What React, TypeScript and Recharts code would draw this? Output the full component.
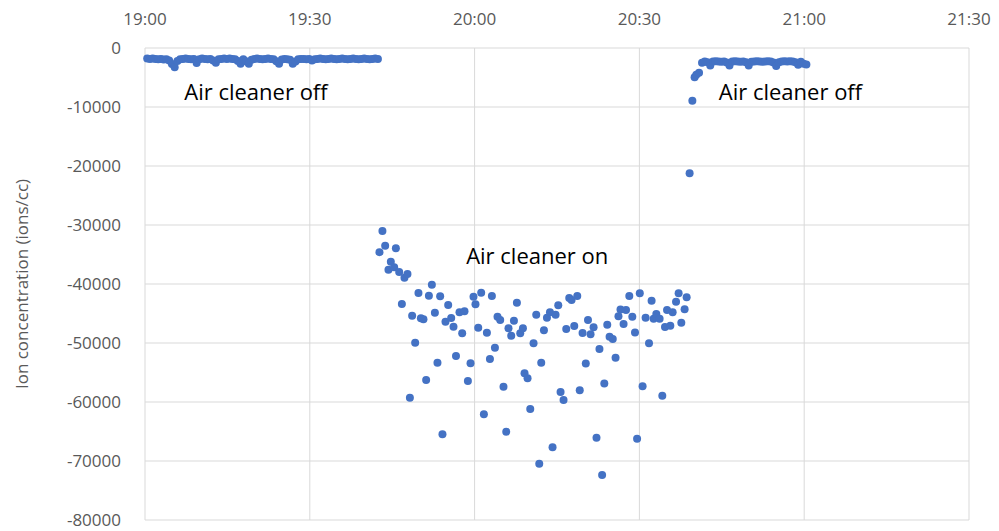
import React from "react";
import { ScatterChart, Scatter, XAxis, YAxis, CartesianGrid, ReferenceDot } from "recharts";

// [minutes after 19:00, ion concentration (ions/cc)]
const offBefore: [number, number][] = [
  [0.4, -1800], [0.9, -1850], [1.4, -1800], [1.9, -1850], [2.4, -1900], [2.9, -1850], [3.4, -1950],
  [3.9, -1900], [4.4, -2100], [4.9, -2700], [5.4, -3250], [5.9, -2200], [6.4, -1900], [6.9, -1850],
  [7.4, -1800], [7.9, -1850], [8.4, -1900], [8.9, -1850], [9.4, -2550], [9.9, -1900], [10.4, -1800],
  [10.9, -1850], [11.4, -1900], [11.9, -1850], [12.4, -2100], [12.9, -2500], [13.4, -1900], [13.9, -1850],
  [14.4, -1800], [14.9, -1850], [15.4, -1800], [15.9, -1850], [16.4, -1900], [16.9, -2200], [17.4, -2650],
  [17.9, -1900], [18.4, -2250], [18.9, -2650], [19.4, -2000], [19.9, -1850], [20.4, -1800], [20.9, -1850],
  [21.4, -1900], [21.9, -1850], [22.4, -1800], [22.9, -1850], [23.4, -1900], [23.9, -2250], [24.4, -2650],
  [24.9, -1950], [25.4, -1850], [25.9, -1900], [26.4, -2000], [26.9, -2650], [27.4, -2300], [27.9, -1900],
  [28.4, -1850], [28.9, -1850], [29.4, -1900], [29.9, -1850], [30.4, -2100], [30.9, -1900], [31.4, -1850],
  [31.9, -1800], [32.4, -1850], [32.9, -1900], [33.4, -1850], [33.9, -1800], [34.4, -1850], [34.9, -1900],
  [35.4, -1850], [35.9, -1800], [36.4, -1850], [36.9, -1900], [37.4, -1850], [37.9, -1800], [38.4, -1850],
  [38.9, -1900], [39.4, -1850], [39.9, -1800], [40.4, -1850], [40.9, -1900], [41.4, -1850], [41.9, -1800],
  [42.4, -1850],
];

const onPeriod: [number, number][] = [
  [42.68, -34600], [43.22, -31000], [43.72, -33500], [44.32, -37580], [44.75, -36220], [45.36, -37170],
  [45.67, -33950], [46.27, -37970], [46.76, -43390], [47.23, -38930], [47.78, -38310], [48.22, -59270],
  [48.63, -45380], [49.18, -49950], [49.78, -41530], [50.22, -45820], [50.69, -45990], [51.18, -56270],
  [51.68, -41990], [52.22, -40120], [52.77, -44870], [53.24, -53340], [53.73, -42090], [54.15, -65480],
  [54.7, -46390], [55.19, -43560], [55.74, -45770], [56.16, -47240], [56.61, -52210], [57.25, -44800],
  [57.74, -48360], [58.16, -44630], [58.78, -56440], [59.26, -53440], [59.8, -42150], [60.16, -43440],
  [60.66, -47410], [61.2, -41480], [61.69, -62090], [62.24, -48260], [62.79, -52710], [63.15, -42040],
  [63.7, -50800], [64.17, -45550], [64.66, -46110], [65.26, -57410], [65.76, -65040], [66.17, -47510],
  [66.67, -48770], [67.16, -46220], [67.7, -43170], [68.31, -48360], [68.8, -47510], [69.09, -55140],
  [69.64, -55990], [70.13, -61190], [70.73, -50050], [71.22, -45210], [71.77, -70460], [72.13, -53340],
  [72.62, -47850], [73.17, -45710], [73.72, -44800], [74.19, -67680], [74.74, -45210], [75.23, -43610],
  [75.65, -58310], [76.19, -59660], [76.68, -47630], [77.23, -42380], [77.65, -42710], [78.14, -47120],
  [78.69, -42040], [79.14, -58020], [79.65, -48310], [80.24, -53480], [80.64, -46100], [81.11, -48530],
  [81.66, -47340], [82.19, -66050], [82.73, -51020], [83.21, -72380], [83.61, -56870], [84.15, -46900],
  [84.57, -48940], [85.15, -49320], [85.66, -52490], [86.19, -45460], [86.56, -44320], [87.12, -46780],
  [87.56, -44410], [88.16, -42040], [88.71, -45540], [89.2, -48220], [89.58, -66220], [90.07, -41560],
  [90.58, -57340], [91.13, -45710], [91.75, -50050], [92.22, -42830], [92.59, -45880], [93.08, -45090],
  [93.68, -45880], [94.17, -58940], [94.66, -47290], [95.03, -44410], [95.63, -47070], [96.05, -44800],
  [96.67, -43000], [97.14, -41580], [97.63, -46560], [98.23, -44290], [98.6, -42260],
  [99.14, -21240], [99.64, -8930], [100.05, -4970], [100.36, -4530], [100.86, -4190],
];

const offAfter: [number, number][] = [
  [101.4, -2500], [101.9, -2300], [102.4, -2400], [102.9, -2950], [103.4, -2300], [103.9, -2250],
  [104.4, -2300], [104.9, -2350], [105.4, -2300], [105.9, -2450], [106.4, -2950], [106.9, -2300],
  [107.4, -2250], [107.9, -2300], [108.4, -2350], [108.9, -2300], [109.4, -2400], [109.9, -2950],
  [110.4, -2350], [110.9, -2300], [111.4, -2250], [111.9, -2300], [112.4, -2350], [112.9, -2300],
  [113.4, -2250], [113.9, -2300], [114.4, -2450], [114.9, -3050], [115.4, -2400], [115.9, -2300],
  [116.4, -2250], [116.9, -2300], [117.4, -2250], [117.9, -2300], [118.4, -2400], [118.9, -2850],
  [119.4, -2350], [119.9, -2650], [120.4, -2800],
];

const timeTicks = [0, 30, 60, 90, 120, 150];
const timeLabels = ["19:00", "19:30", "20:00", "20:30", "21:00", "21:30"];
const ionTicks = [0, -10000, -20000, -30000, -40000, -50000, -60000, -70000, -80000];

const notes = [
  { text: "Air cleaner off", t: 20.2, v: -7500 },
  { text: "Air cleaner on", t: 71.4, v: -35300 },
  { text: "Air cleaner off", t: 117.5, v: -7500 },
];

const points = [...offBefore, ...onPeriod, ...offAfter].map(([t, v]) => ({ t, v }));

const font = "'Open Sans', sans-serif";
const tickStyle = { fill: "#595959", fontSize: 17, fontFamily: font };

const BlueDot = (p: any) => <circle cx={p.cx} cy={p.cy} r={4} fill="#4472C4" />;

const YTitle = (p: any) => {
  const vb = p.viewBox;
  const x = vb.x + 21;
  const y = vb.y + vb.height / 2;
  return (
    <text
      x={x}
      y={y}
      transform={`rotate(-90, ${x}, ${y})`}
      textAnchor="middle"
      dominantBaseline="central"
      fill="#595959"
      fontSize={17}
      fontFamily={font}
    >
      Ion concentration (ions/cc)
    </text>
  );
};

export default function App() {
  return (
    <div style={{ position: "absolute", left: 0, top: 0, background: "#fff" }}>
      <ScatterChart width={999} height={531} margin={{ top: 0, right: 30, bottom: 11, left: 0 }}>
        <CartesianGrid stroke="#d9d9d9" strokeWidth={1} />
        <XAxis
          type="number"
          dataKey="t"
          orientation="top"
          domain={[0, 150]}
          ticks={timeTicks}
          tickFormatter={(m) => timeLabels[timeTicks.indexOf(m)]}
          axisLine={false}
          tickLine={false}
          tickSize={0}
          tickMargin={23}
          height={48}
          tick={tickStyle}
          interval={0}
        />
        <YAxis
          type="number"
          dataKey="v"
          domain={[-80000, 0]}
          ticks={ionTicks}
          axisLine={false}
          tickLine={false}
          tickSize={0}
          tickMargin={24}
          width={145}
          tick={tickStyle}
          interval={0}
          label={<YTitle />}
        />
        <Scatter data={points} shape={BlueDot} isAnimationActive={false} />
        {notes.map((n, i) => (
          <ReferenceDot
            key={i}
            x={n.t}
            y={n.v}
            r={0}
            fill="none"
            stroke="none"
            label={{ value: n.text, position: "center", fill: "#000", fontSize: 22, fontFamily: font }}
          />
        ))}
      </ScatterChart>
    </div>
  );
}
